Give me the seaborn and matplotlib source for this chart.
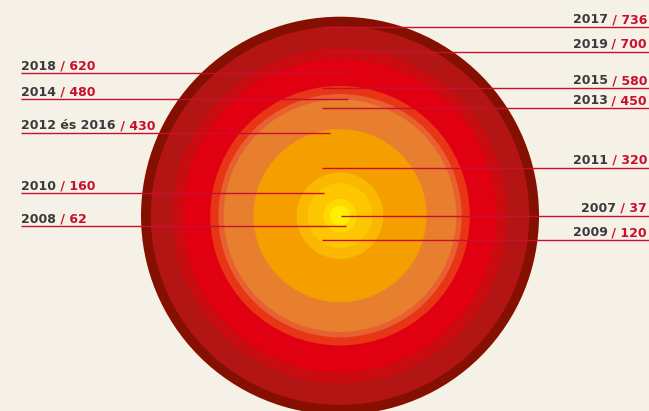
# Koncentrikus körök: évenkénti értékek, a kör sugara arányos az értékkel

import numpy as np
import pandas as pd
import seaborn as sns
import matplotlib.pyplot as plt

# Adatok
evek = ["2017", "2019", "2018", "2015", "2014", "2013", "2012 és 2016",
        "2011", "2010", "2009", "2008", "2007"]
ertekek = [736, 700, 620, 580, 480, 450, 430, 320, 160, 120, 62, 37]
szinek = ["#850F00", "#B31515", "#C80C10", "#E10012", "#E83516", "#E8602F",
          "#E87F2F", "#F59E00", "#FBB800", "#FDC600", "#FFD800", "#FFF000"]

# Elrendezés (pixelben): felirat oldala, vonal magassága, vonal belső vége
oldal = ["r", "r", "l", "r", "l", "r", "l", "r", "l", "r", "l", "r"]
vonal_y = [27.3, 51.7, 73, 88.3, 99, 108.3, 132.7, 167.7, 193.3, 240.3, 226, 215.7]
vonal_x = [322, 322, 348, 322, 348, 322, 330, 322, 324, 322, 346, 340.7]

BG = "#F6F1E7"
PIROS = "#C8102E"
SZURKE = "#3A3A3A"
W, H, DPI = 649, 411, 100
KOZEP = (340, 215.7)
MAX_SUGAR = 199  # px, a legnagyobb kör sugara

sns.set_theme(style="white", rc={"axes.facecolor": BG, "figure.facecolor": BG})
plt.rcParams["font.family"] = ["DejaVu Sans"]

df = pd.DataFrame({"ev": evek, "ertek": ertekek})
df = df.sort_values("ertek", ascending=False)
df["ertek2"] = df["ertek"] ** 2  # terület ~ sugár^2

fig = plt.figure(figsize=(W / DPI, H / DPI), dpi=DPI)
ax = fig.add_axes([0, 0, 1, 1])
ax.set_xlim(0, W)
ax.set_ylim(H, 0)
ax.axis("off")

# marker mérete pont^2-ben: átmérő = 2 * sugár (pontban)
s_max = (2 * MAX_SUGAR * 72 / DPI) ** 2
sns.scatterplot(data=df, x=np.full(len(df), KOZEP[0]), y=np.full(len(df), KOZEP[1]),
                hue="ev", palette=dict(zip(evek, szinek)),
                size="ertek2", sizes=(0, s_max), size_norm=(0, max(ertekek) ** 2),
                linewidth=0, legend=False, ax=ax, zorder=1)

betu = dict(fontsize=9, fontweight="bold")
for ev, ertek, o, y, x in zip(evek, ertekek, oldal, vonal_y, vonal_x):
    if o == "l":
        ax.plot([21, x], [y, y], color=PIROS, lw=1.0, solid_capstyle="butt", zorder=3)
        t1 = ax.text(21, y - 3.5, ev, ha="left", va="baseline", color=SZURKE, **betu)
        ax.annotate(f" / {ertek}", xy=(1, 0), xycoords=t1, ha="left", va="bottom",
                    color=PIROS, **betu)
    else:
        ax.plot([x, W], [y, y], color=PIROS, lw=1.0, solid_capstyle="butt", zorder=3)
        t2 = ax.text(647, y - 4.2, f" / {ertek}", ha="right", va="baseline",
                     color=PIROS, **betu)
        ax.annotate(ev, xy=(0, 0), xycoords=t2, ha="right", va="bottom",
                    color=SZURKE, **betu)

fig.savefig("out.png", dpi=DPI, facecolor=BG)
